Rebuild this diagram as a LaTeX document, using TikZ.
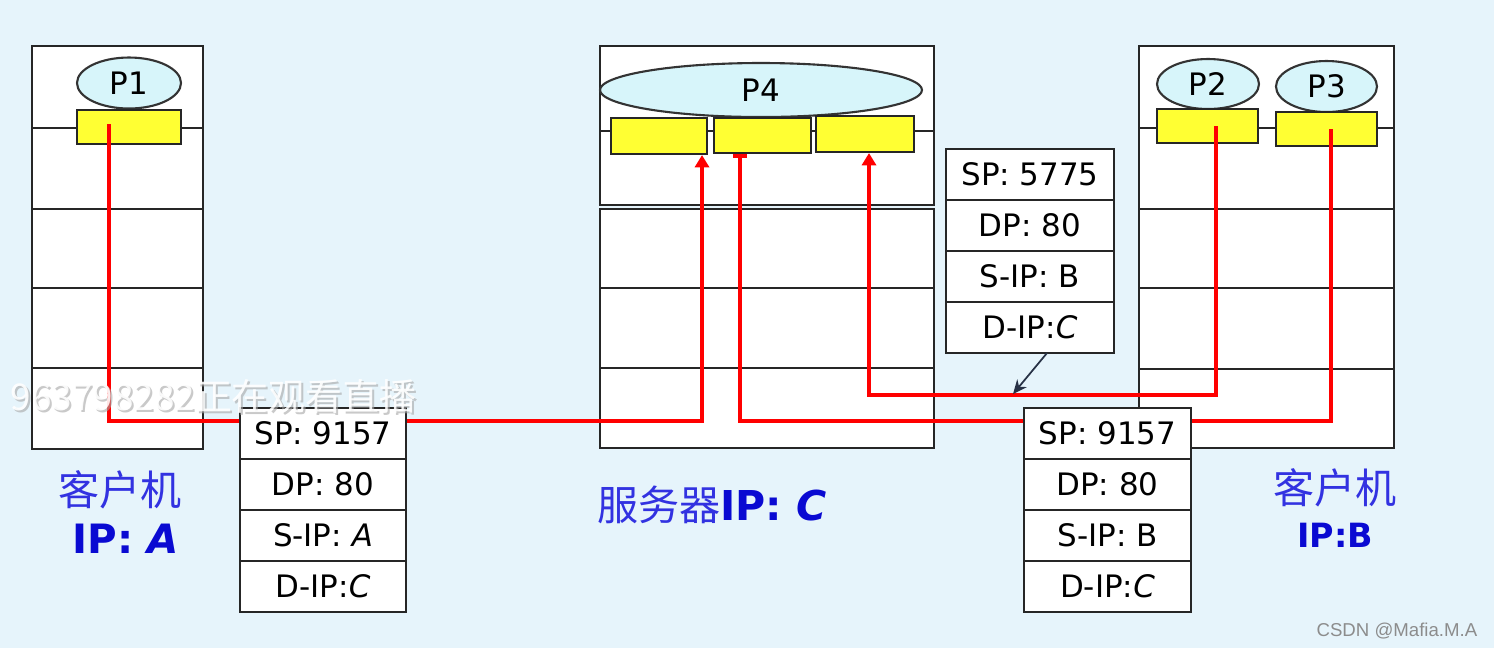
\documentclass[tikz,border=0pt]{standalone}
\usepackage{fontspec}
\setmainfont{DejaVu Sans}
\newfontfamily\cjk{Noto Sans CJK SC}
\newfontfamily\csdnfont{Liberation Sans}
\usetikzlibrary{shapes.geometric,positioning,calc,arrows.meta}

\definecolor{paper}{RGB}{230,244,251}
\definecolor{procfill}{RGB}{215,245,250}
\definecolor{sockfill}{RGB}{255,255,51}
\definecolor{lblblue}{RGB}{50,50,225}
\definecolor{ipblue}{RGB}{10,10,210}
\definecolor{notecol}{RGB}{40,50,70}

\tikzset{
  frame/.style={draw=black!85, line width=0.7pt, fill=white},
  proc/.style={ellipse, draw=black!80, line width=0.6pt, fill=procfill, inner sep=0pt,
    font=\fontsize{8.8}{10}\selectfont},
  sock/.style={draw=black!85, line width=0.6pt, fill=sockfill, inner sep=0pt},
  wire/.style={red, line width=1.1pt},
  field/.style={draw=black!85, line width=0.7pt, fill=white, inner sep=0pt, outer sep=0pt,
    minimum height=5.1mm, font=\fontsize{8.8}{10}\selectfont},
}

\begin{document}
\begin{tikzpicture}[x=0.1mm, y=-0.1mm]
  % background
  \fill[paper] (0,0) rectangle (1494,648);
  \useasboundingbox (0,0) rectangle (1494,648);

  % Client A
  \draw[frame] (32,46) rectangle (203,449);
  \foreach \y in {128,209,288,368} \draw[frame] (32,\y) -- (203,\y);

  % Server
  \draw[frame] (600,46) rectangle (934,205);
  \draw[frame] (600,131) -- (934,131);
  \draw[frame] (600,209) rectangle (934,448);
  \foreach \y in {288,368} \draw[frame] (600,\y) -- (934,\y);

  % Client B
  \draw[frame] (1139,46) rectangle (1394,448);
  \foreach \y in {128,209,288,369} \draw[frame] (1139,\y) -- (1394,\y);

  % processes
  \node[proc, minimum width=10.4mm, minimum height=5.1mm] (p1) at (129,83) {P1};
  \node[proc, minimum width=32.2mm, minimum height=5.4mm] (p4) at (761,90) {P4};
  \node[proc, minimum width=10.2mm, minimum height=5.0mm] (p2) at (1208,84) {P2};
  \node[proc, minimum width=10.1mm, minimum height=5.1mm] (p3) at (1326.5,86.5) {P3};

  % sockets
  \node[sock, minimum width=10.4mm, minimum height=3.4mm] (s1) at (129,127) {};
  \node[sock, minimum width=9.6mm, minimum height=3.6mm] (s4a) at (659,136) {};
  \node[sock, minimum width=9.7mm, minimum height=3.5mm] (s4b) at (762.5,135.5) {};
  \node[sock, minimum width=9.8mm, minimum height=3.6mm] (s4c) at (865,134) {};
  \node[sock, minimum width=10.1mm, minimum height=3.4mm] (s2) at (1207.5,126) {};
  \node[sock, minimum width=10.1mm, minimum height=3.4mm] (s3) at (1326.5,129) {};

  % red connections
  \draw[wire, -{Triangle[width=4pt,length=3.5pt]}]
    ($(s1.center)+(-20,-3)$) |- ($(s4a.south)+(43,266)$) -- ($(s4a.south)+(43,0)$);
  \draw[wire, -{Bar[width=4pt]}]
    ($(s3.center)+(4.5,0)$) |- ($(s4b.south)+(-22.5,266.5)$) -- ($(s4b.south)+(-22.5,0)$);
  \draw[wire, -{Triangle[width=4pt,length=3.5pt]}]
    ($(s2.center)+(8.5,0)$) |- ($(s4c.south)+(4,242)$) -- ($(s4c.south)+(4,0)$);

  % packet A -> C
  \node[field, minimum width=16.6mm, anchor=north] (pk1a) at (323,408) {SP: 9157};
  \node[field, minimum width=16.6mm, below=0pt of pk1a] (pk1b) {DP: 80};
  \node[field, minimum width=16.6mm, below=0pt of pk1b] (pk1c) {S-IP: \textit{A}};
  \node[field, minimum width=16.6mm, below=0pt of pk1c] (pk1d) {D-IP:\textit{C}};

  % packet B -> C (P3)
  \node[field, minimum width=16.7mm, anchor=north] (pk2a) at (1107.5,408) {SP: 9157};
  \node[field, minimum width=16.7mm, below=0pt of pk2a] (pk2b) {DP: 80};
  \node[field, minimum width=16.7mm, below=0pt of pk2b] (pk2c) {S-IP: B};
  \node[field, minimum width=16.7mm, below=0pt of pk2c] (pk2d) {D-IP:\textit{C}};

  % packet B -> C (P2)
  \node[field, minimum width=16.8mm, anchor=north] (pk3a) at (1030,149) {SP: 5775};
  \node[field, minimum width=16.8mm, below=0pt of pk3a] (pk3b) {DP: 80};
  \node[field, minimum width=16.8mm, below=0pt of pk3b] (pk3c) {S-IP: B};
  \node[field, minimum width=16.8mm, below=0pt of pk3c] (pk3d) {D-IP:\textit{C}};

  \coordinate (tipB) at (1013,394);
  \draw[notecol, line width=0.5pt, -{Stealth[length=4pt,width=3.5pt]}]
    ($(pk3d.south)+(17,0)$) -- (tipB);

  % host labels
  \node[lblblue, font=\cjk\fontsize{11.7}{12}\selectfont] (lblA) at (120,490) {客户机};
  \node[ipblue, font=\bfseries\fontsize{11.5}{12}\selectfont] (ipA) at (126,539) {IP: \textit{A}};
  \node[lblblue, font=\fontsize{11.7}{12}\selectfont] (lblC) at (712,505)
    {{\cjk 服务器}\textcolor{ipblue}{\bfseries IP: \textit{C}}};
  \node[lblblue, font=\cjk\fontsize{11.7}{12}\selectfont] (lblB) at (1335,488) {客户机};
  \node[ipblue, font=\bfseries\fontsize{9.5}{10}\selectfont] (ipB) at (1335,535) {IP:B};

  % overlay texts
  \node[black!35, opacity=0.6, anchor=west, inner sep=0pt, font=\cjk\fontsize{10.5}{11}\selectfont]
    (watchshade) at (12,398) {963798282正在观看直播};
  \node[white, opacity=0.9, anchor=west, inner sep=0pt, font=\cjk\fontsize{10.5}{11}\selectfont]
    (watch) at (10,396) {963798282正在观看直播};
  \node[black!45, anchor=east, inner sep=0pt, font=\csdnfont\fontsize{5.3}{6}\selectfont]
    (csdn) at (1478,631) {CSDN @Mafia.M.A};
\end{tikzpicture}
\end{document}
